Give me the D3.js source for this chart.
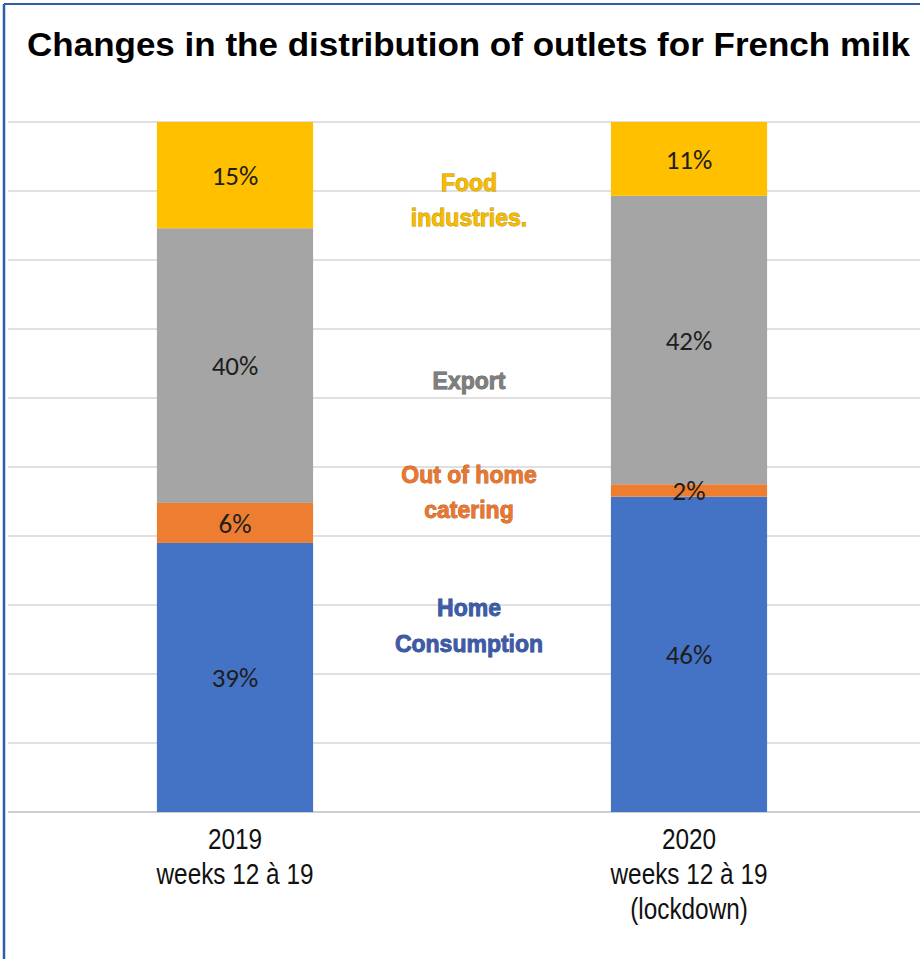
<!DOCTYPE html>
<html>
<head>
<meta charset="utf-8">
<script src="https://cdn.jsdelivr.net/npm/d3@7"></script>
<style>
  html, body { margin: 0; padding: 0; background: #fff; }
  svg { display: block; }
</style>
</head>
<body>
<svg id="chart" width="920" height="959"></svg>
<script>
// ---- data ----
const categories = ["2019|weeks 12 à 19", "2020|weeks 12 à 19|(lockdown)"];
const seriesNames = ["Home Consumption", "Out of home catering", "Export", "Food industries."];
const homeConsumption = [39.0, 45.7];
const outOfHomeCatering = [5.8, 1.8];
const exportShare = [39.8, 41.8];
const foodIndustries = [15.4, 10.7];
const yTicks = [0, 10, 20, 30, 40, 50, 60, 70, 80, 90, 100];
const titleText = "Changes in the distribution of outlets for French milk";

const barColors = ["#4472c4", "#ed7d31", "#a5a5a5", "#ffc000"];
const legendFill = ["#3d5bab", "#e8782f", "#7f7f7f", "#f5bb00"];
const legendStroke = ["#2c3f78", "#b4581c", "#5a5a5a", "#b88c00"];

const svg = d3.select("#chart");
const W = 920, H = 959;

const series = [homeConsumption, outOfHomeCatering, exportShare, foodIndustries];
const rows = categories.map((c, i) => {
  const r = { cat: c };
  seriesNames.forEach((s, k) => r[s] = series[k][i]);
  return r;
});
const stacked = d3.stack().keys(seriesNames)(rows);

const x = d3.scaleBand().domain(categories).range([8, 916])
  .paddingInner(0.656).paddingOuter(0.328);
const y = d3.scaleLinear().domain([0, 100]).range([812, 122]);

// frame border (left/top)
svg.append("line").attr("x1", 4).attr("x2", 4).attr("y1", 4).attr("y2", H)
  .attr("stroke", "#2e5ea8").attr("stroke-width", 2.5);
svg.append("line").attr("x1", 4).attr("x2", W).attr("y1", 4).attr("y2", 4)
  .attr("stroke", "#2e5ea8").attr("stroke-width", 2);

// title
svg.append("text")
  .attr("x", 27).attr("y", 56)
  .attr("textLength", 883).attr("lengthAdjust", "spacingAndGlyphs")
  .attr("font-family", "'Liberation Sans', Arial, sans-serif")
  .attr("font-weight", "bold").attr("font-size", 33)
  .attr("fill", "#000")
  .text(titleText);

// gridlines
svg.append("g").selectAll("line").data(yTicks).join("line")
  .attr("x1", 8).attr("x2", W)
  .attr("y1", d => y(d)).attr("y2", d => y(d))
  .attr("stroke", d => d === 0 ? "#cfcfcf" : "#d6d6d6")
  .attr("stroke-width", d => d === 0 ? 2 : 1.5);

// bars
stacked.forEach((s, k) => {
  svg.append("g").selectAll("rect").data(s).join("rect")
    .attr("x", d => x(d.data.cat))
    .attr("width", x.bandwidth())
    .attr("y", d => y(d[1]))
    .attr("height", d => y(d[0]) - y(d[1]))
    .attr("fill", barColors[k]);
});

// data labels
stacked.forEach((s, k) => {
  svg.append("g").selectAll("text").data(s).join("text")
    .attr("x", d => x(d.data.cat) + x.bandwidth() / 2)
    .attr("y", d => (y(d[0]) + y(d[1])) / 2)
    .attr("dy", "0.36em")
    .attr("text-anchor", "middle")
    .attr("font-family", "Carlito, Lato, 'Open Sans', sans-serif")
    .attr("font-size", 27)
    .attr("fill", "#1e1e1e")
    .text(d => Math.round(d[1] - d[0]) + "%");
});

// in-chart series labels (middle column)
const midLabelLines = [["Home", "Consumption"], ["Out of home", "catering"], ["Export"], ["Food", "industries."]];
const midLabelY = [[608, 644], [475, 510], [381], [183, 218]];
midLabelLines.forEach((lines, k) => {
  lines.forEach((t, j) => {
    svg.append("text")
      .attr("x", 469).attr("y", midLabelY[k][j])
      .attr("dy", "0.35em")
      .attr("text-anchor", "middle")
      .attr("font-family", "'Liberation Sans', Arial, sans-serif")
      .attr("font-weight", "bold").attr("font-size", 23)
      .attr("fill", legendFill[k])
      .attr("stroke", legendStroke[k]).attr("stroke-width", 0.8)
      .attr("paint-order", "stroke")
      .text(t);
  });
});

// category axis labels (condensed horizontally)
svg.append("g").selectAll("text").data(categories).join("text")
  .attr("transform", d => `translate(${x(d) + x.bandwidth() / 2},849) scale(0.84,1)`)
  .attr("text-anchor", "middle")
  .attr("font-family", "'Liberation Sans Narrow', 'Arial Narrow', 'Liberation Sans', sans-serif")
  .attr("font-size", 29)
  .attr("fill", "#111")
  .each(function(d) {
    d3.select(this).selectAll("tspan").data(d.split("|")).join("tspan")
      .attr("x", 0)
      .attr("dy", (p, i) => i === 0 ? 0 : 35)
      .text(p => p);
  });
</script>
</body>
</html>
